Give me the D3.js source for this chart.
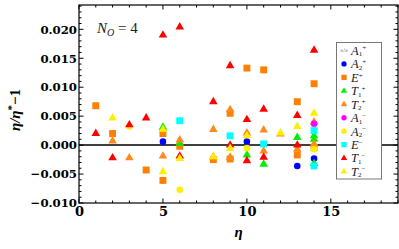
<!DOCTYPE html>
<html lang="en">
<head>
<meta charset="UTF-8">
<title>eta ratio chart</title>
<script src="https://d3js.org/d3.v7.min.js"></script>
<style>
  body { margin: 0; background: #fff; }
  .tick text { font-family: "DejaVu Serif", serif; font-weight: bold; font-size: 11.7px; }
</style>
</head>
<body>
<div id="chart"></div>
<script>
// [eta, eta/eta* - 1] pairs
const A1p = [];
const A2p = [[5, 0.0006], [10, 0.0006], [13, -0.0036], [14, -0.0023]];
const Ep  = [[1, 0.0068], [2, 0.0020], [4, -0.0043], [5, 0.0020], [5, -0.0061], [6, -0.0002],
             [8, -0.0025], [9, 0.0055], [9, -0.0024], [10, 0.0133], [11, 0.0130],
             [13, 0.0075], [13, -0.0017], [14, 0.0106], [14, -0.0004]];
const T1p = [[5, 0.0031], [6, 0.0003], [10, -0.0017], [11, -0.0033], [13, 0.0013],
             [14, 0.0016], [14, 0.0010], [14, -0.0032]];
const T2p = [[2, 0.0007], [3, -0.0022], [5, -0.0019], [6, 0.0009], [8, 0.0027], [8, -0.0020],
             [9, 0.0061], [9, -0.0021], [10, 0.0021], [11, 0.0026], [11, -0.0010],
             [12, 0.0019], [13, -0.0007], [14, 0.0040], [14, 0.0002]];
const A1m = [[14, 0.0037]];
const A2m = [[3, 0.0032], [6, -0.0077], [10, -0.0005], [14, -0.0007]];
const Em  = [[6, 0.0042], [9, 0.0016], [11, 0.0002], [14, 0.0025], [14, -0.0036]];
const T1m = [[1, 0.0020], [2, -0.0022], [3, 0.0035], [4, 0.0047], [5, 0.0190], [6, 0.0204],
             [6, -0.0019], [8, 0.0075], [9, 0.0137], [9, 0.0000], [10, 0.0044], [10, -0.0027],
             [11, 0.0062], [11, -0.0021], [13, 0.0051], [13, 0.0000], [14, 0.0164]];
const T2m = [[2, 0.0047], [5, 0.0027], [5, -0.0046], [6, -0.0023], [8, -0.0020], [9, -0.0006],
             [10, 0.0016], [12, 0.0021], [13, 0.0032], [14, 0.0055]];

const xTicks = [0, 5, 10, 15];
const yTicks = [-0.010, -0.005, 0.000, 0.005, 0.010, 0.015, 0.020];

const series = [
  { letter: "A", sub: "1", sup: "+", data: A1p, shape: "tiny",     color: "#999" },
  { letter: "A", sub: "2", sup: "+", data: A2p, shape: "circle",   color: "#0000ff" },
  { letter: "E", sub: "",  sup: "+", data: Ep,  shape: "square",   color: "#ff7f00" },
  { letter: "T", sub: "1", sup: "+", data: T1p, shape: "triangle", color: "#00ee00" },
  { letter: "T", sub: "2", sup: "+", data: T2p, shape: "triangle", color: "#ff8a1c" },
  { letter: "A", sub: "1", sup: "\u2212", data: A1m, shape: "circle",   color: "#ff00ff" },
  { letter: "A", sub: "2", sup: "\u2212", data: A2m, shape: "circle",   color: "#ffee00" },
  { letter: "E", sub: "",  sup: "\u2212", data: Em,  shape: "square",   color: "#00ffff" },
  { letter: "T", sub: "1", sup: "\u2212", data: T1m, shape: "triangle", color: "#ff0000" },
  { letter: "T", sub: "2", sup: "\u2212", data: T2m, shape: "triangle", color: "#ffee00" }
];

const width = 399, height = 249;
const margin = { top: 5, right: 1, bottom: 46, left: 79 };

const svg = d3.select("#chart").append("svg")
  .attr("width", width).attr("height", height);

const x = d3.scaleLinear().domain([0, 19]).range([margin.left, width - margin.right]);
const y = d3.scaleLinear().domain([-0.010, 0.0242]).range([height - margin.bottom, margin.top]);

const symbols = {
  circle: d3.symbolCircle, square: d3.symbolSquare, triangle: d3.symbolTriangle
};
const sizes = { circle: 34, square: 48, triangle: 32 };
const legendSizes = { circle: 22, square: 28, triangle: 18 };

// ticks: minor every 1 / 0.001, major every 5 / 0.005, all pointing inward
const xMinor = d3.range(0, 20, 1), yMinor = d3.range(-10, 25).map(d => d / 1000);
function drawTicks(g, vals, scale, orient, len) {
  vals.forEach(v => {
    const p = scale(v);
    if (orient === "bottom") g.append("line").attr("x1", p).attr("x2", p).attr("y1", y.range()[0]).attr("y2", y.range()[0] - len);
    if (orient === "top") g.append("line").attr("x1", p).attr("x2", p).attr("y1", y.range()[1]).attr("y2", y.range()[1] + len);
    if (orient === "left") g.append("line").attr("y1", p).attr("y2", p).attr("x1", x.range()[0]).attr("x2", x.range()[0] + len);
    if (orient === "right") g.append("line").attr("y1", p).attr("y2", p).attr("x1", x.range()[1]).attr("x2", x.range()[1] - len);
  });
}
const tg = svg.append("g").attr("stroke", "#000").attr("stroke-width", 1);
["bottom", "top"].forEach(o => {
  drawTicks(tg, xMinor.filter(v => v % 5 !== 0), x, o, 2.5);
  drawTicks(tg, xMinor.filter(v => v % 5 === 0), x, o, 4.5);
});
["left", "right"].forEach(o => {
  drawTicks(tg, yMinor.filter(v => Math.round(v * 1000) % 5 !== 0), y, o, 2.5);
  drawTicks(tg, yMinor.filter(v => Math.round(v * 1000) % 5 === 0), y, o, 4.5);
});

// axis labels via d3 axes (lines hidden)
const xAxis = svg.append("g")
  .attr("transform", `translate(0,${y.range()[0]})`)
  .call(d3.axisBottom(x).tickValues(xTicks).tickSize(0).tickPadding(4).tickFormat(d3.format("d")));
const yAxis = svg.append("g")
  .attr("transform", `translate(${x.range()[0]},0)`)
  .call(d3.axisLeft(y).tickValues(yTicks).tickSize(0).tickPadding(2)
    .tickFormat(d => d3.format(".3f")(d).replace("-", "\u2212")));
[xAxis, yAxis].forEach(a => { a.select(".domain").remove(); a.selectAll("text").attr("fill", "#000"); });
xAxis.selectAll("text").style("font-size", "13px");

// zero line
svg.append("line")
  .attr("x1", x.range()[0]).attr("x2", x.range()[1])
  .attr("y1", y(0)).attr("y2", y(0))
  .attr("stroke", "#000").attr("stroke-width", 1.5);

// data markers
series.forEach(s => {
  if (s.shape === "tiny") return;
  svg.append("g").selectAll("path").data(s.data).join("path")
    .attr("transform", d => `translate(${x(d[0])},${y(d[1])})`)
    .attr("d", d3.symbol().type(symbols[s.shape]).size(sizes[s.shape]))
    .attr("fill", s.color);
});

// frame
svg.append("rect")
  .attr("x", x.range()[0]).attr("y", y.range()[1])
  .attr("width", x.range()[1] - x.range()[0]).attr("height", y.range()[0] - y.range()[1])
  .attr("fill", "none").attr("stroke", "#000").attr("stroke-width", 1.2);

// annotation
const ann = svg.append("text").attr("x", 97).attr("y", 33)
  .attr("font-family", "Liberation Serif, serif").attr("font-size", 15).attr("fill", "#222");
ann.append("tspan").attr("font-style", "italic").text("N");
ann.append("tspan").attr("font-style", "italic").attr("font-size", 10).attr("dy", 3).text("O");
ann.append("tspan").attr("dy", -3).text(" = 4");

// axis titles
svg.append("text").attr("x", x(9.5)).attr("y", 237)
  .attr("text-anchor", "middle").attr("font-family", "Liberation Serif, serif")
  .attr("font-style", "italic").attr("font-weight", "bold").attr("font-size", 15).text("\u03b7");
const yt = svg.append("text").attr("transform", "translate(20,110) rotate(-90)")
  .attr("text-anchor", "middle").attr("font-family", "Liberation Serif, serif")
  .attr("font-weight", "bold").attr("font-size", 15);
yt.append("tspan").attr("font-style", "italic").text("\u03b7/\u03b7");
yt.append("tspan").attr("font-size", 11).attr("dy", -5).text("*");
yt.append("tspan").attr("dy", 5).text("\u22121");

// legend
const lg = svg.append("g");
lg.append("rect").attr("x", 336.5).attr("y", 42.5).attr("width", 45).attr("height", 136.5)
  .attr("fill", "#fff").attr("stroke", "#777").attr("stroke-width", 1);
series.forEach((s, i) => {
  const cy = 50.5 + i * 13.45;
  if (s.shape === "tiny") {
    lg.append("text").attr("x", 344).attr("y", cy + 1.5).attr("text-anchor", "middle")
      .attr("font-size", 5).attr("fill", s.color).attr("font-family", "DejaVu Sans").text("a/a");
  } else {
    lg.append("path").attr("transform", `translate(344,${cy})`)
      .attr("d", d3.symbol().type(symbols[s.shape]).size(legendSizes[s.shape]))
      .attr("fill", s.color);
  }
  const base = cy + 4.3;
  const t = lg.append("text").attr("x", 351).attr("y", base)
    .attr("font-family", "Liberation Serif, serif").attr("font-size", 12.5).attr("fill", "#222");
  t.append("tspan").attr("font-style", "italic").text(s.letter);
  if (s.sub) t.append("tspan").attr("font-size", 7).attr("y", base + 1.5).text(s.sub);
  t.append("tspan").attr("font-size", 7).attr("y", base - (s.sub ? 4.5 : 3.8)).text(s.sup);
});
</script>
</body>
</html>
